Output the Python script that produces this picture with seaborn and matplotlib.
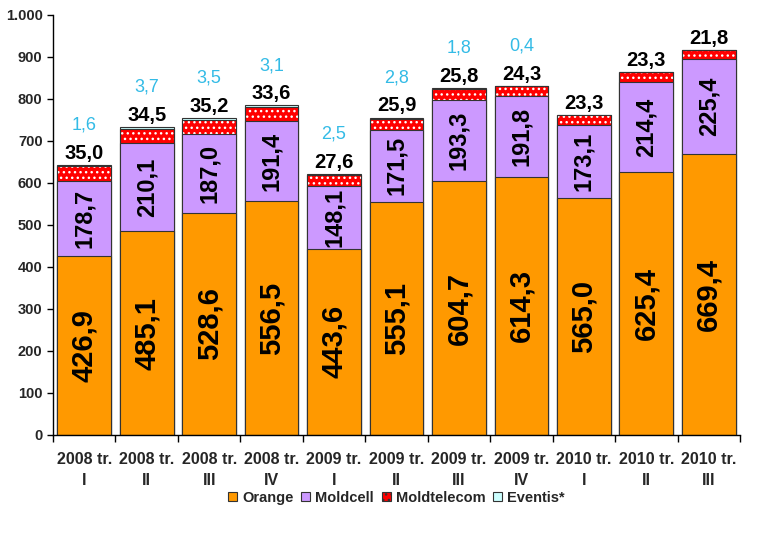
import numpy as np
import pandas as pd
import matplotlib
matplotlib.use("Agg")
import matplotlib.pyplot as plt
import seaborn as sns
from matplotlib.patches import Patch
from matplotlib.ticker import FuncFormatter, FixedLocator

sns.set_style("white")
plt.rcParams['font.family'] = ['Liberation Sans', 'DejaVu Sans']
plt.rcParams['hatch.linewidth'] = 1.0

quarters = ["2008 tr.\nI", "2008 tr.\nII", "2008 tr.\nIII", "2008 tr.\nIV",
            "2009 tr.\nI", "2009 tr.\nII", "2009 tr.\nIII", "2009 tr.\nIV",
            "2010 tr.\nI", "2010 tr.\nII", "2010 tr.\nIII"]
orange = [426.9, 485.1, 528.6, 556.5, 443.6, 555.1, 604.7, 614.3, 565.0, 625.4, 669.4]
moldcell = [178.7, 210.1, 187.0, 191.4, 148.1, 171.5, 193.3, 191.8, 173.1, 214.4, 225.4]
moldtelecom = [35.0, 34.5, 35.2, 33.6, 27.6, 25.9, 25.8, 24.3, 23.3, 23.3, 21.8]
eventis = [1.6, 3.7, 3.5, 3.1, 2.5, 2.8, 1.8, 0.4, None, None, None]

c_orange = "#FF9900"
c_moldcell = "#CC99FF"
c_red = "#FF0000"
c_eventis = "#CCFFFF"
c_edge = "#333333"
c_cyan = "#33BBE6"

df = pd.DataFrame({"q": quarters, "orange": orange, "moldcell": moldcell,
                   "moldtelecom": moldtelecom, "eventis": eventis})
df["eventis"] = df["eventis"].fillna(0)
df["s1"] = df["orange"]
df["s2"] = df["s1"] + df["moldcell"]
df["s3"] = df["s2"] + df["moldtelecom"]
df["s4"] = df["s3"] + df["eventis"]

fig = plt.figure(figsize=(7.72, 5.33), dpi=100)
ax = fig.add_axes([53 / 772, 1 - 435 / 533, 687 / 772, 420 / 533])

w = 0.86
common = dict(x="q", ax=ax, width=w, errorbar=None, saturation=1)
# stacked by overlapping cumulative bars
sns.barplot(data=df, y="s4", color=c_eventis, edgecolor=c_edge, linewidth=0.8, **common)
sns.barplot(data=df, y="s3", color=c_red, edgecolor="white", linewidth=0, hatch="...", **common)
sns.barplot(data=df, y="s3", fill=False, edgecolor=c_edge, linewidth=0.8, **common)
sns.barplot(data=df, y="s2", color=c_moldcell, edgecolor=c_edge, linewidth=0.8, **common)
sns.barplot(data=df, y="s1", color=c_orange, edgecolor=c_edge, linewidth=0.8, **common)

fmt = lambda v: f"{v:.1f}".replace(".", ",")
for i, row in df.iterrows():
    ax.text(i, row["orange"] / 2, fmt(row["orange"]), rotation=90, ha="center", va="center",
            fontsize=21, fontweight="bold", color="black")
    ax.text(i, row["orange"] + row["moldcell"] / 2, fmt(row["moldcell"]), rotation=90,
            ha="center", va="center", fontsize=17, fontweight="bold", color="black")
    ax.text(i, row["s4"] + 15, fmt(row["moldtelecom"]), ha="center", va="baseline",
            fontsize=14.5, fontweight="bold", color="black")
    if eventis[i] is not None:
        ax.text(i, row["s4"] + 84, fmt(eventis[i]), ha="center", va="baseline",
                fontsize=13, color=c_cyan)

ax.set_xlim(-0.5, len(quarters) - 0.5)
ax.set_ylim(0, 1000)
ax.set_yticks(np.arange(0, 1001, 100))
ax.yaxis.set_major_formatter(FuncFormatter(lambda v, p: f"{int(v):,}".replace(",", ".")))
ax.xaxis.set_minor_locator(FixedLocator(np.arange(-0.5, len(quarters), 1)))
ax.tick_params(axis="x", which="major", length=0, pad=12)
ax.tick_params(axis="x", which="minor", length=5, width=1, direction="out", color="black", bottom=True)
ax.tick_params(axis="y", length=4.5, width=1, direction="out", color="black", left=True, pad=3)
for lab in ax.get_xticklabels():
    lab.set_fontsize(11.5)
    lab.set_fontweight("bold")
    lab.set_linespacing(1.55)
for lab in ax.get_yticklabels():
    lab.set_fontsize(10.5)
    lab.set_fontweight("bold")
ax.set_xlabel("")
ax.set_ylabel("")
sns.despine(ax=ax)
for s in ["left", "bottom"]:
    ax.spines[s].set_color("black")
    ax.spines[s].set_linewidth(1)

handles = [Patch(facecolor=c_orange, edgecolor=c_edge, linewidth=0.8, label="Orange"),
           Patch(facecolor=c_moldcell, edgecolor=c_edge, linewidth=0.8, label="Moldcell"),
           Patch(facecolor=c_red, edgecolor=c_edge, linewidth=0.8, hatch="...", label="Moldtelecom"),
           Patch(facecolor=c_eventis, edgecolor=c_edge, linewidth=0.8, label="Eventis*")]
fig.legend(handles=handles, loc="center", bbox_to_anchor=(396.5 / 772, 1 - 498 / 533), ncol=4,
           frameon=False, handlelength=0.6, handleheight=0.6, handletextpad=0.35,
           columnspacing=0.55, prop={"size": 10.5, "weight": "bold"})

fig.savefig("out.png", dpi=100)
